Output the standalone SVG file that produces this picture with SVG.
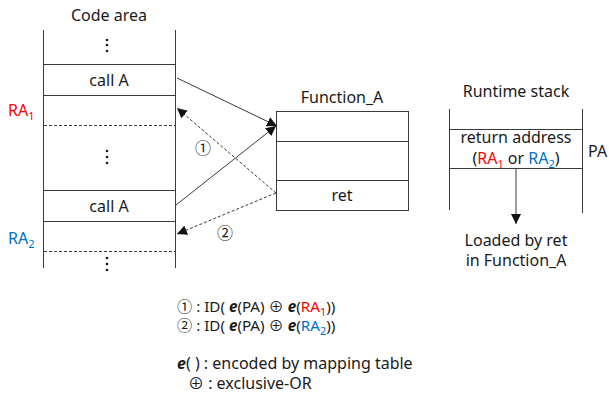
<svg xmlns="http://www.w3.org/2000/svg" width="609" height="397" viewBox="0 0 609 397">
  <style>
    text { font-family: "Noto Sans", "Noto Sans CJK KR", sans-serif; font-size: 16px; fill: #1a1a1a; }
    .mid { text-anchor: middle; }
    .ln { stroke: #3a3a3a; stroke-width: 1; fill: none; }
    .box { stroke: #3a3a3a; stroke-width: 1; fill: #ffffff; }
    .dash { stroke: #3a3a3a; stroke-width: 1; stroke-dasharray: 3 2; fill: none; }
    .red { fill: #ff0000; }
    .blue { fill: #0070c0; }
    .e { font-style: italic; font-weight: bold; }
    .sub { font-size: 11px; }
    .formula { font-size: 15.2px; }
  </style>
  <defs>
    <marker id="arr" viewBox="0 0 10 10" refX="10" refY="5" markerWidth="10" markerHeight="10" markerUnits="userSpaceOnUse" orient="auto">
      <path d="M0,0 L10,5 L0,10 z" fill="#111111"/>
    </marker>
  </defs>

  <!-- code area column -->
  <g id="code-area">
    <text class="mid" x="109" y="21">Code area</text>
    <line class="ln" x1="43.5" y1="30" x2="43.5" y2="268"/>
    <line class="ln" x1="175.5" y1="30" x2="175.5" y2="268" stroke="#555"/>
    <g fill="#1a1a1a">
      <circle cx="107" cy="40" r="1.3"/><circle cx="107" cy="45" r="1.3"/><circle cx="107" cy="51" r="1.3"/>
      <circle cx="107" cy="151" r="1.3"/><circle cx="107" cy="157" r="1.3"/><circle cx="107" cy="163" r="1.3"/>
      <circle cx="107" cy="258" r="1.3"/><circle cx="107" cy="264" r="1.3"/><circle cx="107" cy="270" r="1.3"/>
    </g>
    <rect class="box" x="43.5" y="64.5" width="132" height="31"/>
    <text class="mid" x="109" y="86">call A</text>
    <line class="dash" x1="44" y1="125.5" x2="175" y2="125.5"/>
    <rect class="box" x="43.5" y="190.5" width="132" height="31"/>
    <text class="mid" x="109" y="212">call A</text>
    <line class="dash" x1="44" y1="251.5" x2="175" y2="251.5"/>
    <text class="red" x="8" y="116">RA<tspan class="sub" dy="4">1</tspan></text>
    <text class="blue" x="8" y="244">RA<tspan class="sub" dy="4">2</tspan></text>
  </g>

  <!-- callee body -->
  <g id="function-a">
    <text class="mid" x="342" y="103">Function_A</text>
    <rect class="box" x="276.5" y="111.5" width="132" height="99"/>
    <line class="ln" x1="276.5" y1="141.5" x2="408.5" y2="141.5"/>
    <line class="ln" x1="276.5" y1="180.5" x2="408.5" y2="180.5"/>
    <text class="mid" x="342" y="201">ret</text>
  </g>

  <!-- stack frame -->
  <g id="runtime-stack">
    <text class="mid" x="516" y="97">Runtime stack</text>
    <line class="ln" x1="449.5" y1="109" x2="449.5" y2="210"/>
    <line class="ln" x1="582.5" y1="109" x2="582.5" y2="213"/>
    <line class="ln" x1="449.5" y1="129.5" x2="582.5" y2="129.5"/>
    <line class="ln" x1="449.5" y1="168.5" x2="582.5" y2="168.5"/>
    <text class="mid" x="516" y="143">return address</text>
    <text class="mid" x="516" y="164">(<tspan class="red">RA<tspan class="sub" dy="4">1</tspan></tspan><tspan dy="-4"> or </tspan><tspan class="blue">RA<tspan class="sub" dy="4">2</tspan></tspan><tspan dy="-4">)</tspan></text>
    <text x="588" y="157">PA</text>
    <text class="mid" x="516" y="246">Loaded by ret</text>
    <text class="mid" x="516" y="266">in Function_A</text>
  </g>

  <!-- connectors -->
  <g id="connectors">
    <line class="ln" x1="177" y1="78" x2="277" y2="126" marker-end="url(#arr)"/>
    <line class="ln" x1="176" y1="205" x2="276" y2="126" marker-end="url(#arr)"/>
    <line class="dash" x1="276" y1="193" x2="177" y2="108" marker-end="url(#arr)"/>
    <line class="dash" x1="276" y1="193" x2="177" y2="234" marker-end="url(#arr)"/>
    <line class="ln" x1="516" y1="169" x2="516" y2="224" marker-end="url(#arr)"/>
    <text class="mid" x="203" y="154">①</text>
    <text class="mid" x="225" y="239">②</text>
  </g>

  <!-- legend -->
  <g id="legend">
    <text class="formula" x="177" y="312">① : ID( <tspan class="e">e</tspan>(PA) ⊕ <tspan class="e">e</tspan>(<tspan class="red">RA<tspan class="sub" dy="4">1</tspan></tspan><tspan dy="-4">))</tspan></text>
    <text class="formula" x="177" y="331">② : ID( <tspan class="e">e</tspan>(PA) ⊕ <tspan class="e">e</tspan>(<tspan class="blue">RA<tspan class="sub" dy="4">2</tspan></tspan><tspan dy="-4">))</tspan></text>
    <text x="177" y="369"><tspan class="e">e</tspan>( ) : encoded by mapping table</text>
    <text x="188" y="389">⊕ : exclusive-OR</text>
  </g>
</svg>
